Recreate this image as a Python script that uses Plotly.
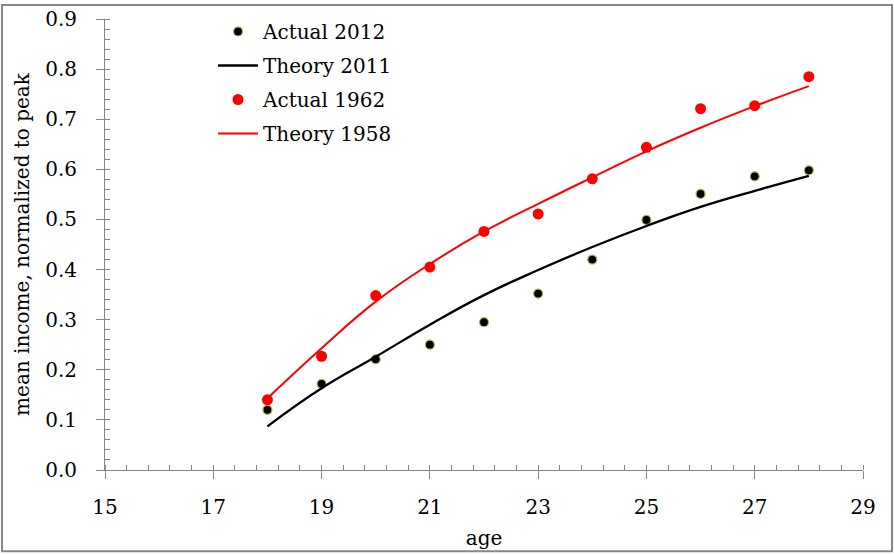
import plotly.graph_objects as go

ages = [18, 19, 20, 21, 22, 23, 24, 25, 26, 27, 28]
actual_2012 = [0.120, 0.172, 0.221, 0.250, 0.295, 0.352, 0.420, 0.499, 0.551, 0.586, 0.598]
theory_2011 = [0.087, 0.163, 0.226, 0.290, 0.349, 0.399, 0.445, 0.487, 0.525, 0.557, 0.587]
actual_1962 = [0.140, 0.227, 0.348, 0.405, 0.476, 0.511, 0.581, 0.644, 0.721, 0.727, 0.785]
theory_1958 = [0.143, 0.243, 0.336, 0.411, 0.476, 0.531, 0.584, 0.636, 0.683, 0.726, 0.766]

FONT = "DejaVu Serif"
GRAY = "#868686"
FS = 20

fig = go.Figure()
fig.add_trace(go.Scatter(x=ages, y=actual_2012, mode="markers", name="Actual 2012",
                         legendgroup="a",
                         marker=dict(color="black", size=9, line=dict(color="#a9b95a", width=1.2))))
fig.add_trace(go.Scatter(x=ages, y=theory_2011, mode="lines", name="Theory 2011",
                         legendgroup="b", line=dict(color="black", width=2.3, shape="spline", smoothing=1.3)))
fig.add_trace(go.Scatter(x=ages, y=actual_1962, mode="markers", name="Actual 1962",
                         legendgroup="c", marker=dict(color="#ff0000", size=11)))
fig.add_trace(go.Scatter(x=ages, y=theory_1958, mode="lines", name="Theory 1958",
                         legendgroup="d", line=dict(color="#ff0000", width=2, shape="spline", smoothing=1.3)))
# empty helper traces to activate overlay axes for the inner part of crossing ticks
fig.add_trace(go.Scatter(x=[], y=[], xaxis="x2", yaxis="y", showlegend=False, hoverinfo="skip"))
fig.add_trace(go.Scatter(x=[], y=[], xaxis="x", yaxis="y2", showlegend=False, hoverinfo="skip"))

fig.update_layout(
    width=894, height=554,
    margin=dict(l=105, r=31, t=15, b=84),
    paper_bgcolor="white", plot_bgcolor="white",
    font=dict(family=FONT, size=FS, color="black"),
    showlegend=True,
    legend=dict(x=0.1425, y=1.0155, xanchor="left", yanchor="top",
                bgcolor="rgba(0,0,0,0)", font=dict(family=FONT, size=FS),
                itemwidth=40, tracegroupgap=5, traceorder="grouped"),
    xaxis=dict(range=[15, 29], tick0=15, dtick=2, showgrid=False, zeroline=False,
               showline=True, linecolor=GRAY, linewidth=1, automargin=False,
               ticks="outside", ticklen=8, tickcolor=GRAY, tickwidth=1,
               ticklabelstandoff=11,
               minor=dict(ticks="inside", dtick=0.4, tick0=15, ticklen=5, tickcolor=GRAY, showgrid=False),
               title=dict(text="age", font=dict(family=FONT, size=FS), standoff=12)),
    yaxis=dict(range=[0, 0.9], tick0=0, dtick=0.1, tickformat=".1f", showgrid=False, zeroline=False,
               showline=True, linecolor=GRAY, linewidth=1, automargin=False,
               ticks="outside", ticklen=8, tickcolor=GRAY, tickwidth=1,
               ticklabelstandoff=15,
               minor=dict(ticks="inside", dtick=0.02, tick0=0, ticklen=5, tickcolor=GRAY, showgrid=False),
               title=dict(text="mean income, normalized to peak", font=dict(family=FONT, size=FS), standoff=10)),
    xaxis2=dict(range=[15, 29], tick0=15, dtick=2, overlaying="x", anchor="y", side="bottom",
                showgrid=False, zeroline=False, showline=False, showticklabels=False, automargin=False,
                ticks="inside", ticklen=5, tickcolor=GRAY, tickwidth=1),
    yaxis2=dict(range=[0, 0.9], tick0=0, dtick=0.1, overlaying="y", anchor="x", side="left",
                showgrid=False, zeroline=False, showline=False, showticklabels=False, automargin=False,
                ticks="inside", ticklen=5, tickcolor=GRAY, tickwidth=1),
)

# outer chart border
pw, ph = 894 - 105 - 31, 554 - 15 - 84
fig.add_shape(type="rect", xref="paper", yref="paper",
              x0=(2 - 105) / pw, x1=(892 - 105) / pw,
              y0=(554 - 84 - 552) / ph, y1=(554 - 84 - 1) / ph,
              line=dict(color=GRAY, width=2), fillcolor="rgba(0,0,0,0)", layer="below")

fig.write_html("out.html", config={"displayModeBar": False},
               post_script="document.body.style.margin='0px';")
